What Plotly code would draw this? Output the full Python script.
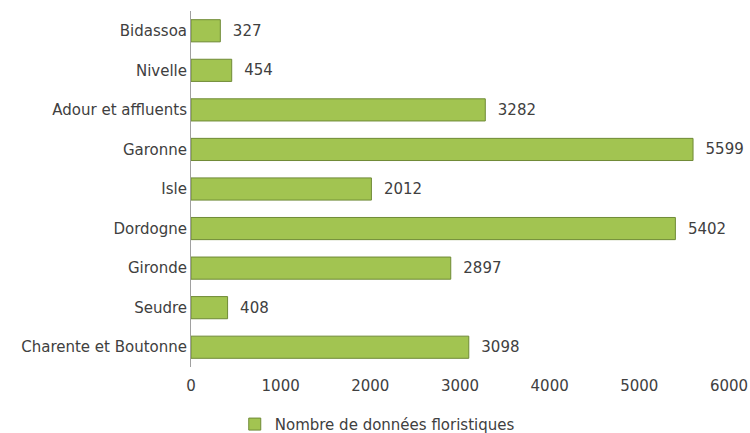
import plotly.graph_objects as go

categories = ["Charente et Boutonne", "Seudre", "Gironde", "Dordogne", "Isle",
              "Garonne", "Adour et affluents", "Nivelle", "Bidassoa"]
values = [3098, 408, 2897, 5402, 2012, 5599, 3282, 454, 327]
series_name = "Nombre de données floristiques"
tick_vals = [0, 1000, 2000, 3000, 4000, 5000, 6000]

FS = 15

fig = go.Figure()
fig.add_trace(go.Bar(
    y=categories, x=values, orientation="h", name=series_name,
    marker=dict(color="#a2c451", line=dict(color="#6f8a36", width=1)),
    text=values, texttemplate="  %{x}", textposition="outside",
    textfont=dict(family="DejaVu Sans", size=FS, color="#404040"),
    cliponaxis=False,
))
fig.update_layout(
    width=750, height=433,
    margin=dict(l=191, r=21, t=11, b=66, autoexpand=False),
    paper_bgcolor="white", plot_bgcolor="white",
    font=dict(family="DejaVu Sans", size=FS, color="#404040"),
    bargap=0.44,
    showlegend=True,
    legend=dict(orientation="h", xref="container", yref="container",
                x=0.313, xanchor="left", y=0.02, yanchor="middle",
                font=dict(size=FS, color="#404040")),
    xaxis=dict(range=[0, 6000], tickvals=tick_vals, showgrid=False, zeroline=False,
               showline=False, ticks="", tickfont=dict(size=FS),
               ticklabelstandoff=8),
    yaxis=dict(showgrid=False, zeroline=False, showline=True, linecolor="#a0a0a0",
               linewidth=1, ticks="", ticklen=0, tickfont=dict(size=FS),
               categoryorder="array", categoryarray=categories),
)
fig.write_html("out.html")
